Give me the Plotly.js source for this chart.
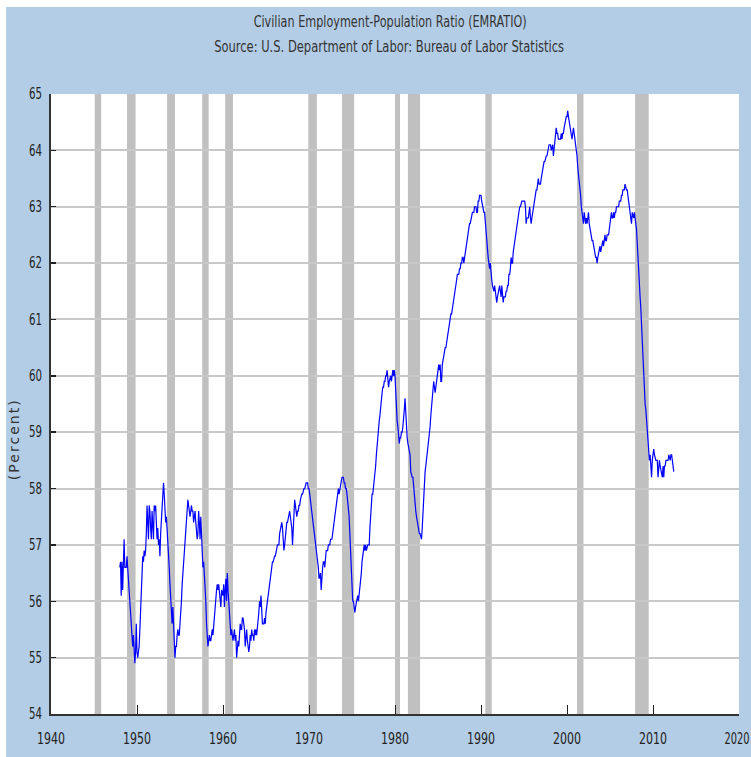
<!DOCTYPE html>
<html>
<head>
<meta charset="utf-8">
<script src="https://cdn.plot.ly/plotly-3.0.1.min.js"></script>
<style>
  html, body { margin: 0; padding: 0; background: #ffffff; }
  #bg { position: absolute; left: 6px; top: 7px; width: 745px; height: 750px; background: #b4cde6; }
  #chart { position: absolute; left: 0; top: 0; width: 751px; height: 757px; }
</style>
</head>
<body>
<div id="bg"></div>
<div id="chart"></div>
<script>
// Civilian Employment-Population Ratio (EMRATIO), monthly, percent, starting Jan 1948
const startYear = 1948;

const ratio1940s = [
  56.6, 56.7, 56.1, 56.7, 56.2, 57.0, 57.1, 56.6, 56.6, 56.6, 56.8, 56.6, // 1948
  56.3, 56.2, 55.9, 55.7, 55.6, 55.3, 55.2, 55.4, 55.0, 54.9, 55.1, 55.6  // 1949
];
const ratio1950s = [
  55.1, 55.0, 55.1, 55.2, 55.5, 55.8, 56.2, 56.6, 56.8, 56.7, 56.9, 56.8, // 1950
  56.9, 57.2, 57.7, 57.4, 57.1, 57.7, 57.6, 57.3, 57.1, 57.6, 57.3, 57.1, // 1951
  57.7, 57.6, 57.7, 57.3, 57.1, 57.3, 57.0, 57.1, 56.8, 57.2, 57.5, 57.8, // 1952
  58.0, 58.1, 57.9, 57.4, 57.4, 57.5, 57.3, 57.2, 56.9, 56.6, 56.3, 56.0, // 1953
  55.7, 55.6, 55.9, 55.5, 55.3, 55.0, 55.2, 55.2, 55.4, 55.5, 55.4, 55.4, // 1954
  55.6, 56.0, 56.0, 56.3, 56.5, 56.7, 57.0, 57.1, 57.4, 57.5, 57.6, 57.8, // 1955
  57.7, 57.5, 57.5, 57.6, 57.7, 57.6, 57.6, 57.4, 57.5, 57.6, 57.4, 57.2, // 1956
  57.1, 57.2, 57.6, 57.4, 57.1, 57.5, 57.2, 57.1, 56.6, 56.7, 56.5, 56.3, // 1957
  56.0, 55.6, 55.4, 55.2, 55.3, 55.4, 55.3, 55.3, 55.4, 55.5, 55.4, 55.6, // 1958
  55.7, 55.8, 56.0, 56.2, 56.3, 56.2, 56.3, 56.1, 56.0, 55.9, 56.2, 56.1  // 1959
];
const ratio1960s = [
  56.1, 56.3, 55.9, 56.2, 56.4, 56.0, 56.5, 56.2, 55.9, 55.8, 55.6, 55.4, // 1960
  55.5, 55.4, 55.3, 55.4, 55.5, 55.3, 55.4, 55.0, 55.2, 55.3, 55.2, 55.4, // 1961
  55.6, 55.5, 55.5, 55.7, 55.7, 55.6, 55.5, 55.2, 55.4, 55.5, 55.3, 55.2, // 1962
  55.1, 55.2, 55.4, 55.3, 55.5, 55.4, 55.4, 55.3, 55.5, 55.4, 55.5, 55.4, // 1963
  55.5, 55.6, 55.8, 56.0, 55.9, 56.1, 55.7, 55.6, 55.6, 55.6, 55.7, 55.6, // 1964
  55.8, 55.9, 56.0, 56.2, 56.3, 56.4, 56.4, 56.6, 56.6, 56.7, 56.7, 56.8, // 1965
  56.8, 56.8, 56.9, 56.9, 57.0, 57.0, 57.0, 57.2, 57.3, 57.4, 57.4, 57.3, // 1966
  57.0, 56.9, 57.0, 57.2, 57.2, 57.4, 57.4, 57.5, 57.5, 57.6, 57.5, 57.4, // 1967
  57.3, 57.0, 57.2, 57.5, 57.8, 57.7, 57.6, 57.5, 57.6, 57.6, 57.7, 57.7, // 1968
  57.8, 57.9, 57.9, 57.9, 58.0, 58.0, 58.0, 58.1, 58.1, 58.1, 58.1, 58.0  // 1969
];
const ratio1970s = [
  58.0, 57.9, 57.8, 57.7, 57.5, 57.4, 57.3, 57.2, 57.1, 57.0, 56.9, 56.8, // 1970
  56.7, 56.6, 56.4, 56.5, 56.5, 56.2, 56.6, 56.6, 56.7, 56.7, 56.6, 56.8, // 1971
  56.9, 56.9, 56.9, 57.0, 57.0, 57.0, 57.1, 57.1, 57.1, 57.2, 57.3, 57.5, // 1972
  57.6, 57.7, 57.8, 57.8, 57.9, 58.0, 57.9, 58.0, 58.1, 58.1, 58.2, 58.2, // 1973
  58.2, 58.1, 58.1, 58.0, 58.0, 57.9, 57.8, 57.7, 57.5, 57.2, 56.9, 56.5, // 1974
  56.2, 56.0, 56.0, 55.9, 55.8, 55.9, 56.0, 56.1, 56.1, 56.0, 56.1, 56.2, // 1975
  56.3, 56.5, 56.7, 56.8, 56.9, 57.0, 56.9, 57.0, 56.9, 57.0, 57.0, 57.0, // 1976
  57.0, 57.3, 57.5, 57.8, 57.9, 57.9, 58.0, 58.1, 58.2, 58.4, 58.6, 58.8, // 1977
  58.9, 59.1, 59.2, 59.3, 59.5, 59.6, 59.7, 59.8, 59.8, 59.9, 59.9, 60.0, // 1978
  60.0, 60.1, 59.9, 59.8, 59.9, 60.0, 60.0, 59.9, 60.0, 60.1, 60.0, 60.1  // 1979
];
const ratio1980s = [
  60.0, 59.6, 59.4, 59.2, 59.1, 58.9, 58.8, 58.9, 58.9, 59.0, 59.0, 59.1, // 1980
  59.2, 59.4, 59.6, 59.3, 59.1, 58.9, 58.8, 58.7, 58.6, 58.6, 58.3, 58.2, // 1981
  58.2, 58.2, 58.0, 57.9, 57.8, 57.6, 57.5, 57.4, 57.3, 57.3, 57.2, 57.2, // 1982
  57.1, 57.1, 57.3, 57.6, 57.9, 58.0, 58.3, 58.4, 58.5, 58.7, 58.8, 58.9, // 1983
  59.0, 59.1, 59.3, 59.5, 59.7, 59.7, 59.9, 59.8, 59.7, 59.8, 59.9, 59.9, // 1984
  60.0, 60.2, 60.1, 60.2, 59.9, 59.9, 60.2, 60.3, 60.4, 60.5, 60.5, 60.5, // 1985
  60.6, 60.7, 60.8, 60.9, 60.9, 61.0, 61.1, 61.1, 61.2, 61.3, 61.4, 61.5, // 1986
  61.6, 61.6, 61.7, 61.8, 61.8, 61.8, 61.9, 61.9, 62.0, 62.0, 62.1, 62.1, // 1987
  62.0, 62.1, 62.1, 62.2, 62.4, 62.5, 62.6, 62.7, 62.7, 62.7, 62.8, 62.9, // 1988
  62.9, 62.9, 62.9, 63.0, 63.0, 63.0, 62.9, 62.9, 63.1, 63.1, 63.2, 63.2  // 1989
];
const ratio1990s = [
  63.2, 63.1, 63.0, 63.0, 62.9, 62.9, 62.7, 62.5, 62.4, 62.2, 62.1, 62.0, // 1990
  61.9, 62.0, 61.7, 61.7, 61.6, 61.5, 61.5, 61.6, 61.5, 61.4, 61.3, 61.4, // 1991
  61.5, 61.5, 61.6, 61.5, 61.4, 61.6, 61.4, 61.3, 61.4, 61.4, 61.4, 61.5, // 1992
  61.5, 61.6, 61.6, 61.8, 61.8, 61.9, 62.1, 62.0, 62.0, 62.2, 62.3, 62.4, // 1993
  62.5, 62.5, 62.6, 62.7, 62.8, 62.9, 63.0, 63.0, 63.1, 63.1, 63.1, 63.1, // 1994
  63.1, 63.1, 63.0, 62.7, 62.8, 62.8, 62.8, 62.9, 63.0, 62.8, 62.7, 62.8, // 1995
  62.9, 63.0, 63.0, 63.1, 63.2, 63.3, 63.3, 63.4, 63.5, 63.4, 63.4, 63.4, // 1996
  63.5, 63.6, 63.7, 63.7, 63.8, 63.8, 63.9, 63.9, 63.9, 64.0, 64.0, 64.1, // 1997
  64.1, 64.1, 64.0, 64.1, 64.1, 63.9, 64.0, 64.1, 64.3, 64.4, 64.3, 64.3, // 1998
  64.2, 64.2, 64.2, 64.2, 64.3, 64.2, 64.3, 64.3, 64.4, 64.5, 64.5, 64.6  // 1999
];
const ratio2000s = [
  64.6, 64.7, 64.6, 64.5, 64.4, 64.3, 64.2, 64.2, 64.3, 64.4, 64.3, 64.2, // 2000
  64.2, 64.0, 63.9, 63.7, 63.6, 63.4, 63.3, 63.2, 63.0, 62.9, 62.8, 62.7, // 2001
  62.9, 62.8, 62.7, 62.8, 62.7, 62.8, 62.9, 62.7, 62.6, 62.5, 62.5, 62.4, // 2002
  62.4, 62.3, 62.3, 62.2, 62.1, 62.1, 62.0, 62.1, 62.2, 62.2, 62.3, 62.2, // 2003
  62.3, 62.3, 62.4, 62.3, 62.4, 62.5, 62.4, 62.4, 62.5, 62.5, 62.5, 62.6, // 2004
  62.7, 62.8, 62.9, 62.8, 62.8, 62.9, 62.8, 62.9, 62.9, 63.0, 63.0, 63.0, // 2005
  63.0, 63.1, 63.1, 63.1, 63.2, 63.2, 63.3, 63.3, 63.3, 63.4, 63.3, 63.3, // 2006
  63.3, 63.1, 63.1, 63.0, 62.9, 62.8, 62.7, 62.9, 62.8, 62.8, 62.9, 62.7, // 2007
  62.7, 62.6, 62.3, 62.0, 61.9, 61.7, 61.4, 61.2, 60.9, 60.5, 60.2, 59.8, // 2008
  59.6, 59.5, 59.4, 59.2, 59.0, 58.9, 58.7, 58.5, 58.6, 58.4, 58.2, 58.5  // 2009
];
const ratio2010s = [
  58.6, 58.7, 58.6, 58.5, 58.5, 58.5, 58.5, 58.2, 58.4, 58.5, 58.4, 58.3, // 2010
  58.3, 58.2, 58.4, 58.2, 58.4, 58.4, 58.5, 58.5, 58.5, 58.5, 58.6, 58.5, // 2011
  58.5, 58.6, 58.6, 58.5, 58.4, 58.3                                      // 2012
];

// NBER recession periods (peak month, trough month)
const recessionPeaks   = ['1945-02','1948-11','1953-07','1957-08','1960-04','1969-12','1973-11','1980-01','1981-07','1990-07','2001-03','2007-12'];
const recessionTroughs = ['1945-10','1949-10','1954-05','1958-04','1961-02','1970-11','1975-03','1980-07','1982-11','1991-03','2001-11','2009-06'];

const xTickYears = [1940, 1950, 1960, 1970, 1980, 1990, 2000, 2010, 2020];
const yTickValues = [54, 55, 56, 57, 58, 59, 60, 61, 62, 63, 64, 65];

const titleLine1 = 'Civilian Employment-Population Ratio (EMRATIO)';
const titleLine2 = 'Source: U.S. Department of Labor: Bureau of Labor Statistics';
const yLabel = '(Percent)';

// ---- build ----
const values = [].concat(ratio1940s, ratio1950s, ratio1960s, ratio1970s, ratio1980s, ratio1990s, ratio2000s, ratio2010s);
const xs = values.map((v, i) => startYear + i / 12);

function ymToDec(s, end) {
  const [y, m] = s.split('-').map(Number);
  return y + (m - (end ? 0 : 1)) / 12;
}

const shapes = recessionPeaks.map((p, i) => ({
  type: 'rect', xref: 'x', yref: 'paper',
  x0: ymToDec(p, false), x1: ymToDec(recessionTroughs[i], true),
  y0: 0, y1: 1,
  fillcolor: '#c0c0c0', line: { width: 0 }, layer: 'between'
}));

const narrow = '"DejaVu Sans Condensed", "Liberation Sans Narrow", sans-serif';

const trace = {
  type: 'scatter', mode: 'lines',
  x: xs, y: values,
  line: { color: '#0000ff', width: 1.2 },
  hoverinfo: 'skip'
};

const L = 51, R = 12, T = 94, B = 43, W = 751, H = 757;
const plotW = W - L - R, plotH = H - T - B;
const px2xp = (px) => (px - L) / plotW;
const py2yp = (py) => 1 - (py - T) / plotH;

const layout = {
  width: W, height: H,
  margin: { l: L, r: R, t: T, b: B, pad: 0 },
  paper_bgcolor: 'rgba(0,0,0,0)',
  plot_bgcolor: '#ffffff',
  showlegend: false,
  xaxis: {
    range: [1940, 2020], tickvals: xTickYears, ticktext: xTickYears.map(String),
    ticks: 'inside', ticklen: 9, tickwidth: 1, tickcolor: '#222',
    showline: true, linecolor: '#333', linewidth: 2,
    showgrid: false, zeroline: false,
    tickfont: { family: narrow, size: 15, color: '#222' },
    ticklabelstandoff: 10, ticklabeloverflow: 'allow', fixedrange: true
  },
  yaxis: {
    range: [54, 65], tickvals: yTickValues,
    ticks: 'inside', ticklen: 5, tickwidth: 1.5, tickcolor: '#222',
    showline: true, linecolor: '#333', linewidth: 2,
    showgrid: true, gridcolor: '#c8c8c8', gridwidth: 2, zeroline: false,
    tickfont: { family: narrow, size: 15, color: '#222' },
    ticklabelstandoff: 4, ticklabeloverflow: 'allow', fixedrange: true
  },
  shapes: shapes,
  annotations: [
    { text: titleLine1, xref: 'paper', yref: 'paper', x: px2xp(390), y: py2yp(22),
      xanchor: 'center', yanchor: 'middle', showarrow: false,
      font: { family: narrow, size: 15, color: '#333' } },
    { text: titleLine2, xref: 'paper', yref: 'paper', x: px2xp(389), y: py2yp(47),
      xanchor: 'center', yanchor: 'middle', showarrow: false,
      font: { family: narrow, size: 15, color: '#333' } },
    { text: yLabel, xref: 'paper', yref: 'paper', x: px2xp(14), y: py2yp(440),
      xanchor: 'center', yanchor: 'middle', showarrow: false, textangle: -90,
      font: { family: '"DejaVu Sans", Verdana, sans-serif', size: 14, color: '#333' } }
  ]
};

// Narrow the text horizontally to match the compressed look of the original picture
function fitText(el, targetWidth, adjust) {
  if (!el) return;
  el.setAttribute('textLength', targetWidth);
  el.setAttribute('lengthAdjust', adjust || 'spacingAndGlyphs');
}

Plotly.newPlot('chart', [trace], layout, { staticPlot: true, displayModeBar: false }).then(() => {
  const gd = document.getElementById('chart');
  const ann = gd.querySelectorAll('.annotation-text');
  const targets = [273, 350, 80];
  ann.forEach((el, i) => {
    if (i < 2) fitText(el, targets[i]);
    else fitText(el, targets[i], 'spacing');
  });
  const xLabels = gd.querySelectorAll('.xtick text');
  xLabels.forEach((el, i) => {
    if (i === xLabels.length - 1) {
      // the last label sits at the very right edge; keep it inside the page
      fitText(el, 25);
      el.setAttribute('dx', '-2');
    } else {
      fitText(el, el.textContent.length * 7);
    }
  });
  gd.querySelectorAll('.ytick text').forEach(el => fitText(el, el.textContent.length * 6.5));
});
</script>
</body>
</html>
